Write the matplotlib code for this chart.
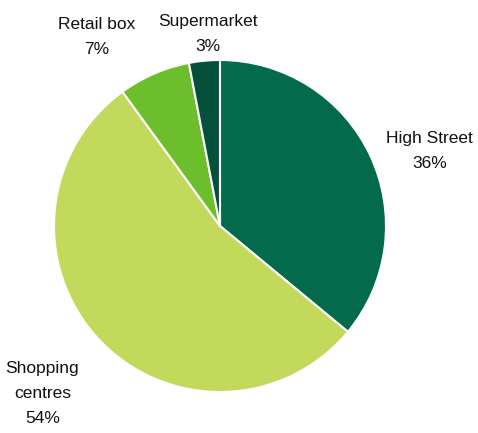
import numpy as np
import matplotlib.pyplot as plt

# data
categories = ["High Street", "Shopping\ncentres", "Retail box", "Supermarket"]
shares = [36, 54, 7, 3]
colors = ["#036B4B", "#C3D95B", "#6CBE2C", "#05503A"]

# label placement (angle in deg, distance in radii) - tuned by eye
label_pos = [(19.7, 1.34), (223.3, 1.47), (123.0, 1.36), (93.6, 1.16)]

plt.rcParams['font.family'] = ['Liberation Sans Narrow', 'Liberation Sans', 'DejaVu Sans']

W, H = 478, 433
fig = plt.figure(figsize=(W / 100, H / 100), dpi=100)
ax = fig.add_axes([0, 0, 1, 1])

cx, cy, r = 220, H - 226, 166
ax.pie(shares, colors=colors, startangle=90, counterclock=False,
       center=(cx, cy), radius=r, frame=False,
       wedgeprops=dict(edgecolor="white", linewidth=1.5))
ax.set_xlim(0, W)
ax.set_ylim(0, H)
ax.set_aspect("auto")
ax.axis("off")

for name, val, (ang, d) in zip(categories, shares, label_pos):
    a = np.deg2rad(ang)
    x = cx + d * r * np.cos(a)
    y = cy + d * r * np.sin(a)
    ax.text(x, y, "%s\n%d%%" % (name, val), ha="center", va="center",
            fontsize=12.5, linespacing=1.85, color="#111111")

fig.savefig("out.png", dpi=100)
